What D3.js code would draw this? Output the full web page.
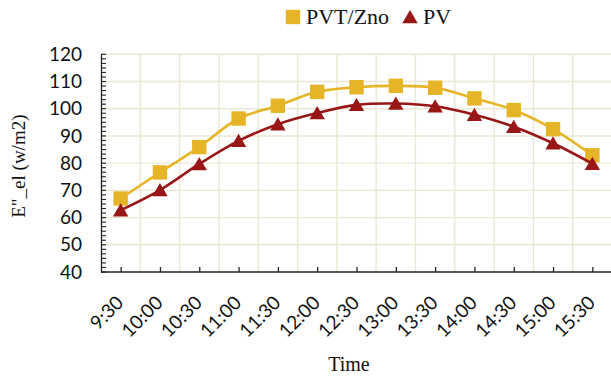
<!DOCTYPE html>
<html>
<head>
<meta charset="utf-8">
<script src="https://cdn.jsdelivr.net/npm/d3@7"></script>
<style>
  html, body { margin: 0; padding: 0; background: #fff; }
  svg { display: block; }
</style>
</head>
<body>
<svg id="chart" width="611" height="380"></svg>
<script>
// Half-hourly readings
const times = ["9:30", "10:00", "10:30", "11:00", "11:30", "12:00", "12:30",
               "13:00", "13:30", "14:00", "14:30", "15:00", "15:30"];
const pvtZno = [67, 76.6, 85.9, 96.4, 101.1, 106.2, 107.9, 108.4, 107.7, 103.8, 99.5, 92.5, 82.9];
const pv     = [62.7, 70.1, 79.7, 88.2, 94.3, 98.4, 101.4, 101.9, 100.9, 97.8, 93.4, 87.3, 79.8];
const yTicks = [40, 50, 60, 70, 80, 90, 100, 110, 120];

const seriesNames = ["PVT/Zno", "PV"];
const colors = { "PVT/Zno": "#E6B527", "PV": "#991616" };

const svg = d3.select("#chart");
const plotLeft = 101, plotRight = 612, plotTop = 54.3, plotBottom = 272;

const x = d3.scalePoint().domain(times).range([plotLeft, plotRight]).padding(0.5);
const y = d3.scaleLinear().domain([40, 120]).range([plotBottom, plotTop]);
const step = x.step();

// Grid
const grid = svg.append("g").attr("stroke", "#EAE8D4").attr("stroke-width", 1.4);
grid.selectAll("line.h").data(yTicks.slice(1)).join("line")
  .attr("x1", plotLeft).attr("x2", plotRight)
  .attr("y1", d => y(d)).attr("y2", d => y(d));
grid.selectAll("line.v").data(times).join("line")
  .attr("x1", d => x(d) + step / 2).attr("x2", d => x(d) + step / 2)
  .attr("y1", plotTop).attr("y2", plotBottom);

// Y axis with inner major and minor ticks
const yAxis = svg.append("g").attr("transform", `translate(${plotLeft},0)`);
yAxis.call(d3.axisLeft(y).tickValues(yTicks).tickSize(0).tickPadding(19).tickFormat(d3.format("d")));
yAxis.select(".domain").attr("stroke", "#222").attr("stroke-width", 1.3);
yAxis.selectAll("text")
  .attr("font-family", "Lato, 'Open Sans', sans-serif")
  .attr("font-size", 19).attr("fill", "#111");
const minor = [];
for (let v = 40; v <= 120 + 1e-9; v += 10 / 6) minor.push(v);
yAxis.selectAll("line.minor").data(minor).join("line")
  .attr("x1", 0).attr("x2", 5)
  .attr("y1", d => y(d)).attr("y2", d => y(d))
  .attr("stroke", "#222").attr("stroke-width", 1.1);

// X axis
const xAxis = svg.append("g").attr("transform", `translate(0,${plotBottom})`);
xAxis.call(d3.axisBottom(x).tickSizeInner(-5).tickSizeOuter(0).tickFormat(() => ""));
xAxis.select(".domain").attr("stroke", "#222").attr("stroke-width", 1.3)
  .attr("d", `M${plotLeft},0H${plotRight}`);
xAxis.selectAll(".tick line").attr("stroke", "#222").attr("stroke-width", 1.3);
svg.append("g").selectAll("text").data(times).join("text")
  .attr("transform", d => `translate(${x(d) + 4},${plotBottom + 32}) rotate(-45)`)
  .attr("text-anchor", "end")
  .attr("font-family", "Lato, 'Open Sans', sans-serif")
  .attr("font-size", 19).attr("fill", "#111")
  .text(d => d);

// Axis titles
svg.append("text")
  .attr("transform", `translate(25,${(plotTop + plotBottom) / 2 + 3}) rotate(-90)`)
  .attr("text-anchor", "middle")
  .attr("font-family", "'Liberation Serif', 'Times New Roman', serif")
  .attr("font-size", 19).attr("fill", "#111")
  .text('E"_el (w/m2)');
svg.append("text")
  .attr("x", 349).attr("y", 371)
  .attr("text-anchor", "middle")
  .attr("font-family", "'Liberation Serif', 'Times New Roman', serif")
  .attr("font-size", 20).attr("fill", "#111")
  .text("Time");

// Series lines and markers
const line = d3.line().x((d, i) => x(times[i])).y(d => y(d)).curve(d3.curveCatmullRom);
const squarePath = "M-7.2,-7.2H7.2V7.2H-7.2Z";
const trianglePath = "M0,-7L7.7,6.2L-7.7,6.2Z";

function drawSeries(values, name, shape) {
  const g = svg.append("g");
  g.append("path").datum(values)
    .attr("d", line).attr("fill", "none")
    .attr("stroke", colors[name]).attr("stroke-width", 2.6);
  g.selectAll("path.m").data(values).join("path")
    .attr("class", "m")
    .attr("d", shape)
    .attr("transform", (d, i) => `translate(${x(times[i])},${y(d)})`)
    .attr("fill", colors[name]);
}
drawSeries(pvtZno, "PVT/Zno", squarePath);
drawSeries(pv, "PV", trianglePath);

// Legend
const legend = svg.append("g");
legend.append("path").attr("d", squarePath).attr("transform", "translate(293,17)")
  .attr("fill", colors["PVT/Zno"]);
legend.append("text").attr("x", 306).attr("y", 24)
  .attr("font-family", "'Liberation Serif', 'Times New Roman', serif")
  .attr("font-size", 22).attr("fill", "#111").text(seriesNames[0]);
legend.append("path").attr("d", trianglePath).attr("transform", "translate(410,17)")
  .attr("fill", colors["PV"]);
legend.append("text").attr("x", 423).attr("y", 24)
  .attr("font-family", "'Liberation Serif', 'Times New Roman', serif")
  .attr("font-size", 22).attr("fill", "#111").text(seriesNames[1]);
</script>
</body>
</html>
